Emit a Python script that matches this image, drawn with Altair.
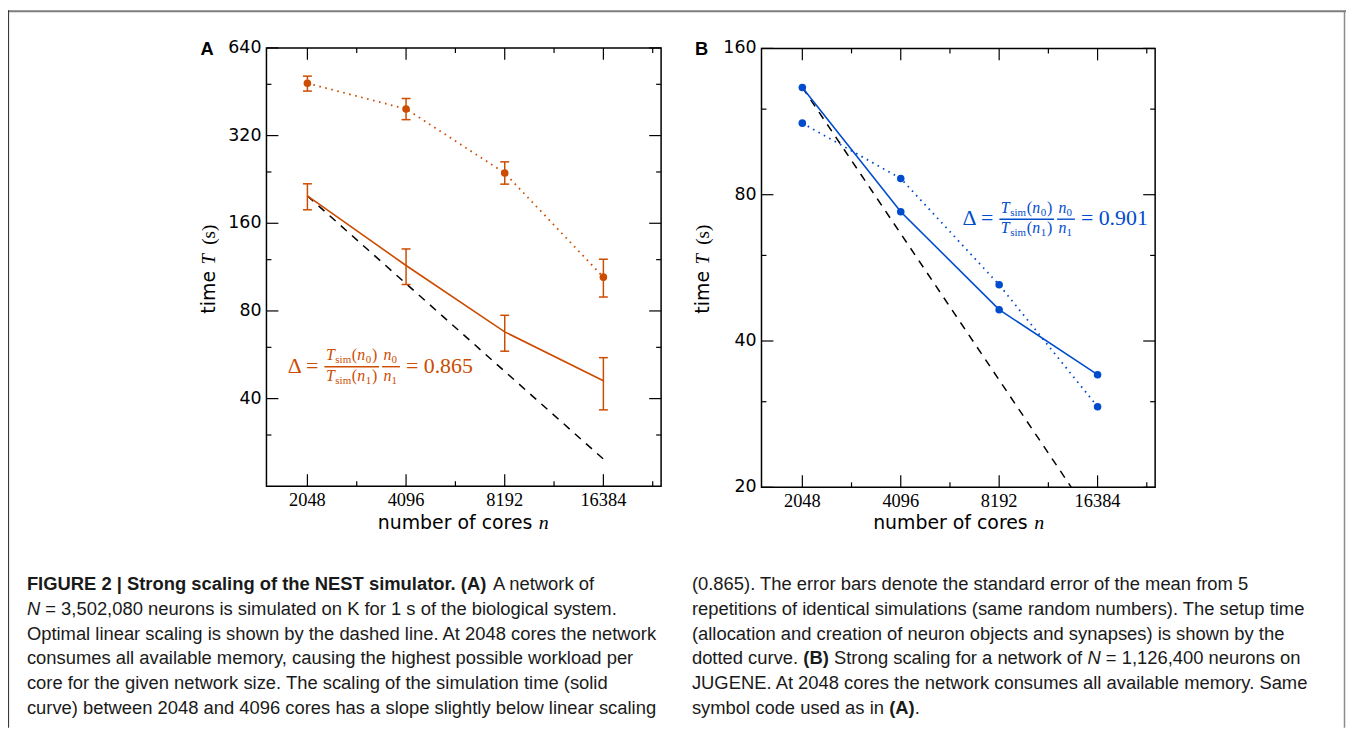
import altair as alt
import pandas as pd

# ------------------------------------------------------------------ data
cores = [2048, 4096, 8192, 16384]

# Panel A : K computer, N = 3,502,080 neurons
a_sim = [198.6, 114.6, 67.8, 46.1]          # simulation time (solid)
a_sim_lo = [178.0, 98.6, 58.2, 36.6]
a_sim_hi = [218.6, 130.6, 77.3, 55.3]
a_setup = [484.0, 395.0, 238.0, 104.5]      # setup time (dotted)
a_setup_lo = [455.0, 363.0, 218.0, 89.3]
a_setup_hi = [512.0, 429.0, 260.0, 120.4]
a_ideal_n = [2048, 16384]                   # optimal linear scaling (dashed)
a_ideal_t = [198.6, 24.8]

# Panel B : JUGENE, N = 1,126,400 neurons
b_sim = [133.0, 73.8, 46.4, 34.1]
b_setup = [112.3, 86.4, 52.2, 29.3]
b_ideal_n = [2048, 13620]
b_ideal_t = [133.0, 20.0]

x_domain = [1536, 24576]
x_ticks = [2048, 4096, 8192, 16384]
x_minor = [2896, 5793, 11585, 23170]
a_y_domain = [20, 640]
a_y_ticks = [40, 80, 160, 320, 640]
a_y_minor = [30, 60, 120, 240, 480]
b_y_domain = [20, 160]
b_y_ticks = [20, 40, 80, 160]
b_y_minor = [30, 60, 120]

a_delta = "0.865"
b_delta = "0.901"

# caption: each line is a list of (text, style) segments
caption_left = [
    [("FIGURE 2 | Strong scaling of the NEST simulator. (A)", "bold"), ("A network of", "normal")],
    [("N", "italic"), ("= 3,502,080 neurons is simulated on K for 1 s of the biological system.", "normal")],
    [("Optimal linear scaling is shown by the dashed line. At 2048 cores the network", "normal")],
    [("consumes all available memory, causing the highest possible workload per", "normal")],
    [("core for the given network size. The scaling of the simulation time (solid", "normal")],
    [("curve) between 2048 and 4096 cores has a slope slightly below linear scaling", "normal")],
]
caption_right = [
    [("(0.865). The error bars denote the standard error of the mean from 5", "normal")],
    [("repetitions of identical simulations (same random numbers). The setup time", "normal")],
    [("(allocation and creation of neuron objects and synapses) is shown by the", "normal")],
    [("dotted curve.", "normal"), ("(B)", "bold"), ("Strong scaling for a network of", "normal"),
     ("N", "italic"), ("= 1,126,400 neurons on", "normal")],
    [("JUGENE. At 2048 cores the network consumes all available memory. Same", "normal")],
    [("symbol code used as in", "normal"), ("(A)", "bold"), (".", "nospace")],
]

# ------------------------------------------------------------------ layout
W, H = 1346, 722
GA = dict(x0=260, x1=657, y0=38, y1=479)
GB = dict(x0=758, x1=1154, y0=38.5, y1=480)
COL_A = "#cc4c00"
COL_B = "#004ccc"
SANS = "DejaVu Sans"
SERIF = "Liberation Serif"
CAP = "Liberation Sans"
FS = 18.5

# Arial / Liberation Sans advance widths (1/1000 em) used to chain caption segments
_REG = dict(zip("ABCDEFGHIJKLMNOPQRSTUVWXYZ",
                [667, 667, 722, 722, 667, 611, 778, 722, 278, 500, 667, 556, 833,
                 722, 778, 667, 778, 722, 667, 611, 722, 667, 944, 667, 667, 611]))
_REG.update(zip("abcdefghijklmnopqrstuvwxyz",
                [556, 556, 500, 556, 556, 278, 556, 556, 222, 222, 500, 222, 833,
                 556, 556, 556, 556, 333, 500, 278, 556, 500, 722, 500, 500, 500]))
_REG.update({c: 556 for c in "0123456789"})
_REG.update({" ": 278, ".": 278, ",": 278, "(": 333, ")": 333, "=": 584, "|": 260, "-": 333})
_BOLD = dict(_REG)
_BOLD.update(zip("ABN", [722, 722, 722]))
_BOLD.update(zip("abcdefghijklmnopqrstuvwxyz",
                 [556, 611, 556, 611, 556, 333, 611, 611, 278, 278, 556, 278, 889,
                  611, 611, 611, 611, 389, 556, 333, 611, 556, 778, 556, 556, 500]))
_BOLD.update({"|": 280})


def text_width(s, style):
    table = _BOLD if style == "bold" else _REG
    return sum(table.get(c, 556) for c in s) * FS / 1000.0


def one():
    return pd.DataFrame({"d": [0]})


def txt(s, x, y, size, font=SANS, color="black", weight="normal",
        style="normal", align="left", baseline="alphabetic", angle=0):
    return alt.Chart(pd.DataFrame({"t": [s]})).mark_text(
        font=font, fontSize=size, fontWeight=weight, fontStyle=style,
        color=color, align=align, baseline=baseline, angle=angle,
    ).encode(text="t:N", x=alt.value(x), y=alt.value(y))


def prule(x, y, x2=None, y2=None, color="black", width=1.0):
    enc = dict(x=alt.value(x), y=alt.value(y))
    if x2 is not None:
        enc["x2"] = alt.value(x2)
    if y2 is not None:
        enc["y2"] = alt.value(y2)
    return alt.Chart(one()).mark_rule(color=color, strokeWidth=width).encode(**enc)


def panel(g, ydom, color, yticks, yminor, sim, setup, ideal_n, ideal_t,
          sim_err=None, setup_err=None, sim_dots=False):
    xs = alt.Scale(type="log", base=2, domain=x_domain,
                   range=[g["x0"], g["x1"]], nice=False)
    ys = alt.Scale(type="log", base=2, domain=ydom,
                   range=[g["y1"], g["y0"]], nice=False)

    def X(f):
        return alt.X(f, type="quantitative", scale=xs, axis=None)

    def Y(f):
        return alt.Y(f, type="quantitative", scale=ys, axis=None)

    d = {"n": cores, "sim": sim, "setup": setup}
    if sim_err:
        d["sim_lo"], d["sim_hi"] = sim_err
    if setup_err:
        d["setup_lo"], d["setup_hi"] = setup_err
    base = alt.Chart(pd.DataFrame(d))
    layers = []

    # frame
    layers.append(alt.Chart(one()).mark_rect(
        fillOpacity=0, stroke="black", strokeWidth=1.5).encode(
        x=alt.value(g["x0"]), x2=alt.value(g["x1"]),
        y=alt.value(g["y0"]), y2=alt.value(g["y1"])))

    # inward ticks on all four sides
    for vals, L in ((yticks, 12), (yminor, 5)):
        src = alt.Chart(pd.DataFrame({"v": vals}))
        layers.append(src.mark_rule(color="black", strokeWidth=1.2).encode(
            y=Y("v"), x=alt.value(g["x0"]), x2=alt.value(g["x0"] + L)))
        layers.append(src.mark_rule(color="black", strokeWidth=1.2).encode(
            y=Y("v"), x=alt.value(g["x1"] - L), x2=alt.value(g["x1"])))
    for vals, L in ((x_ticks, 12), (x_minor, 5)):
        src = alt.Chart(pd.DataFrame({"v": vals}))
        layers.append(src.mark_rule(color="black", strokeWidth=1.2).encode(
            x=X("v"), y=alt.value(g["y1"] - L), y2=alt.value(g["y1"])))
        layers.append(src.mark_rule(color="black", strokeWidth=1.2).encode(
            x=X("v"), y=alt.value(g["y0"]), y2=alt.value(g["y0"] + L)))

    # tick labels
    layers.append(alt.Chart(pd.DataFrame({"v": yticks})).mark_text(
        font=SANS, fontSize=17.5, align="right", baseline="middle").encode(
        y=Y("v"), x=alt.value(g["x0"] - 5), text=alt.Text("v:Q", format="d")))
    layers.append(alt.Chart(pd.DataFrame({"v": x_ticks})).mark_text(
        font=SERIF, fontSize=18.5, align="center", baseline="alphabetic").encode(
        x=X("v"), y=alt.value(g["y1"] + 20), text=alt.Text("v:Q", format="d")))

    # ideal linear scaling
    layers.append(alt.Chart(pd.DataFrame({"n": ideal_n, "t": ideal_t})).mark_line(
        color="black", strokeWidth=1.5, strokeDash=[8, 7]).encode(
        x=X("n"), y=Y("t")))

    # setup time (dotted)
    layers.append(base.mark_line(color=color, strokeWidth=1.8,
                                 strokeDash=[1.6, 4.6]).encode(x=X("n"), y=Y("setup")))
    layers.append(base.mark_circle(color=color, size=58, opacity=1).encode(
        x=X("n"), y=Y("setup")))

    # simulation time (solid)
    layers.append(base.mark_line(color=color, strokeWidth=1.6).encode(
        x=X("n"), y=Y("sim")))
    if sim_dots:
        layers.append(base.mark_circle(color=color, size=58, opacity=1).encode(
            x=X("n"), y=Y("sim")))

    for key, on in (("sim", sim_err), ("setup", setup_err)):
        if not on:
            continue
        layers.append(base.mark_rule(color=color, strokeWidth=1.5).encode(
            x=X("n"), y=Y(key + "_lo"), y2=alt.Y2(key + "_hi")))
        for end in ("_lo", "_hi"):
            layers.append(base.mark_tick(color=color, orient="horizontal",
                                         size=9, thickness=1.5, opacity=1).encode(
                x=X("n"), y=Y(key + end)))
    return alt.layer(*layers)


def formula(x0, yc, color, value):
    parts = [txt("Δ =", x0, yc + 6, 22, SERIF, color)]
    for sub, yb in (("0", yc - 6.5), ("1", yc + 14)):
        parts += [
            txt("T", x0 + 38.5, yb, 16, SERIF, color, style="italic"),
            txt("sim", x0 + 48, yb + 3, 11, SERIF, color),
            txt("(", x0 + 64.5, yb, 16, SERIF, color),
            txt("n", x0 + 70, yb, 16, SERIF, color, style="italic"),
            txt(sub, x0 + 78.5, yb + 3, 11, SERIF, color),
            txt(")", x0 + 85, yb, 16, SERIF, color),
            txt("n", x0 + 96.5, yb, 16, SERIF, color, style="italic"),
            txt(sub, x0 + 104.5, yb + 3, 11, SERIF, color),
        ]
    parts.append(prule(x0 + 37, yc, x2=x0 + 92, color=color, width=1.4))
    parts.append(prule(x0 + 95, yc, x2=x0 + 113, color=color, width=1.4))
    parts.append(txt("= " + value, x0 + 119, yc + 6, 22, SERIF, color))
    return parts


def titles(letter, letter_x, ytitle_x, xtitle_x):
    return [
        txt(letter, letter_x, 45.3, 18.4, CAP, weight="bold"),
        txt("time", ytitle_x, 305.3, 19, SANS, angle=270),
        txt("T", ytitle_x, 256, 19, SERIF, style="italic", angle=270),
        txt("(s)", ytitle_x, 236, 19, SERIF, angle=270),
        txt("number of cores", xtitle_x, 522, 19, SANS),
        txt("n", xtitle_x + 162, 522, 20, SERIF, style="italic"),
    ]


def caption_column(lines, x0, baselines, color):
    out = []
    for segs, yb in zip(lines, baselines):
        x = x0
        for i, (s, style) in enumerate(segs):
            if i > 0 and style != "nospace":
                x += text_width(" ", "normal")
            out.append(txt(s, x, yb, FS, CAP, color,
                           weight="bold" if style == "bold" else "normal",
                           style="italic" if style == "italic" else "normal"))
            x += text_width(s, style)
    return out


pA = panel(GA, a_y_domain, COL_A, a_y_ticks, a_y_minor, a_sim, a_setup,
           a_ideal_n, a_ideal_t, sim_err=(a_sim_lo, a_sim_hi),
           setup_err=(a_setup_lo, a_setup_hi))
pB = panel(GB, b_y_domain, COL_B, b_y_ticks, b_y_minor, b_sim, b_setup,
           b_ideal_n, b_ideal_t, sim_dots=True)

decor = []
decor += titles("A", 193.7, 208.7, 372)
decor += titles("B", 691, 705.3, 870.3)
decor += formula(281.3, 358.7, COL_A, a_delta)
decor += formula(960.3, 210.3, COL_B, b_delta)

# outer frame of the figure box
decor.append(prule(0, 1, x2=W, color="#7d7d7d", width=2))
decor.append(prule(0.5, 0, y2=H, color="#3a3a3a", width=1.2))
decor.append(prule(1344.5, 0, y2=H, color="#8c8c8c", width=1.5))

# caption
CC = "#1a1a1a"
base_y = [583.7, 608.5, 633.3, 658.0, 682.8, 707.6]
decor += caption_column(caption_left, 19, base_y, CC)
decor += caption_column(caption_right, 688, base_y, CC)

chart = alt.layer(pA, pB, *decor).resolve_scale(
    x="independent", y="independent"
).properties(
    width=W, height=H, padding=0, autosize=alt.AutoSizeParams(type="none")
).configure_view(strokeWidth=0)

chart.save("out.html", embed_options={"renderer": "svg", "actions": False})
